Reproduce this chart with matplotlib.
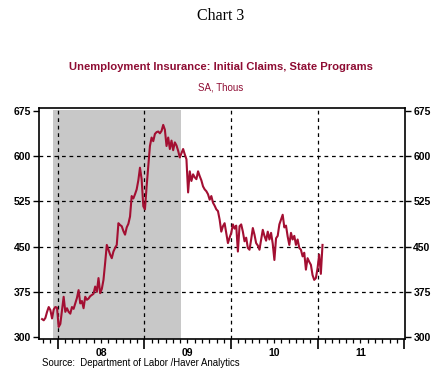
import matplotlib
matplotlib.use("Agg")
import matplotlib.pyplot as plt
import matplotlib.dates as mdates
import pandas as pd
import numpy as np

# Weekly initial claims (thousands, SA), from late Oct 2007 to Jan 2011
claims = [
    330, 328, 332, 342, 350, 345, 331, 346, 350, 349,
    317, 322, 345, 367, 342, 348, 342, 339, 350, 347,
    356, 365, 378, 356, 360, 348, 367, 362, 364, 368,
    370, 372, 384, 375, 398, 373, 380, 395, 423, 453,
    445, 437, 431, 442, 448, 453, 489, 486, 484, 476,
    470, 482, 488, 500, 534, 530, 537, 545, 560, 581,
    562, 517, 512, 550, 584, 617, 631, 625, 637, 640,
    641, 638, 642, 652, 644, 617, 631, 612, 626, 610,
    623, 618, 609, 598, 605, 612, 603, 595, 540, 575,
    559, 570, 565, 562, 575, 567, 560, 550, 545, 542,
    537, 528, 534, 523, 518, 512, 509, 495, 475, 484,
    489, 473, 456, 465, 473, 487, 480, 485, 442, 484,
    487, 475, 459, 465, 448, 445, 462, 481, 470, 456,
    452, 445, 462, 478, 468, 460, 475, 462, 473, 455,
    428, 464, 468, 487, 495, 503, 482, 485, 467, 453,
    473, 462, 468, 453, 462, 448, 445, 434, 440, 412,
    431, 425, 420, 403, 395, 398, 414, 437, 405, 453,
]
start_week = "2007-10-27"
dates = pd.date_range(start_week, periods=len(claims), freq="W-SAT")

recession = ("2007-12-14", "2009-06-06")
y_ticks = [300, 375, 450, 525, 600, 675]
grid_y = [375, 450, 525, 600]
year_labels = ["08", "09", "10", "11"]
years = [2008, 2009, 2010, 2011]

line_color = "#A30F32"
title_red = "#8E0C33"

fig = plt.figure(figsize=(4.42, 3.75), dpi=100)
ax = fig.add_axes([39/442, 36/375, 366/442, 231/375])

ax.axvspan(pd.Timestamp(recession[0]), pd.Timestamp(recession[1]),
           ymin=0, ymax=0.99, color="#C8C8C8", lw=0, zorder=0)

for g in grid_y:
    ax.axhline(g, color="black", lw=0.9, ls=(0, (3, 3)), zorder=1)
for yr in years:
    ax.axvline(pd.Timestamp(f"{yr}-01-01"), color="black", lw=0.9, ls=(0, (3, 3)), zorder=1)

ax.plot(dates, claims, color=line_color, lw=1.5, zorder=3)

ax.set_xlim(pd.Timestamp("2007-10-14"), pd.Timestamp("2012-01-05"))
ax.set_ylim(297, 680)

# y axis both sides
ax.set_yticks(y_ticks)
ax.set_yticklabels([str(v) for v in y_ticks])
ax.tick_params(axis="y", which="both", left=True, right=True, labelleft=True,
               labelright=True, direction="out", length=4, width=1,
               labelsize=7.5, pad=2)
for lab in ax.get_yticklabels():
    lab.set_fontweight("bold")
    lab.set_family("Liberation Sans")

# x axis: major ticks at year starts, minor monthly, labels mid-year
ax.set_xticks([pd.Timestamp(f"{yr}-01-01") for yr in years] + [pd.Timestamp("2012-01-01")])
ax.set_xticklabels([])
ax.xaxis.set_minor_locator(mdates.MonthLocator())
ax.tick_params(axis="x", which="major", direction="out", length=7, width=1.2)
ax.tick_params(axis="x", which="minor", direction="out", length=3, width=0.9)
for yr, lab in zip(years, year_labels):
    ax.text(pd.Timestamp(f"{yr}-07-02"), -0.06, lab, transform=ax.get_xaxis_transform(),
            ha="center", va="center", fontsize=7.5, fontweight="bold", family="Liberation Sans")

for s in ax.spines.values():
    s.set_linewidth(1.2)
    s.set_color("black")

fig.text(221/442, 1 - 16/375, "Chart 3", ha="center", va="center",
         fontsize=11.5, family="Liberation Serif", color="black")
fig.text(221/442, 1 - 67/375, "Unemployment Insurance: Initial Claims, State Programs",
         ha="center", va="center", fontsize=8.1, fontweight="bold",
         family="Liberation Sans", color=title_red)
fig.text(221/442, 1 - 88/375, "SA, Thous", ha="center", va="center",
         fontsize=7, family="Liberation Sans", color=title_red)
fig.text(42/442, 1 - 363/375, "Source:  Department of Labor /Haver Analytics",
         ha="left", va="center", fontsize=6.9, family="Liberation Sans", color="black")

fig.savefig("out.png", dpi=100)
